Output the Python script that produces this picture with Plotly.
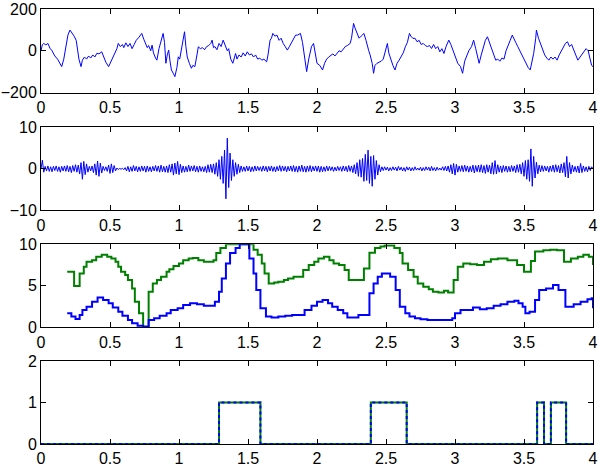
import plotly.graph_objects as go
from plotly.subplots import make_subplots

# panel 1: raw signal (time, amplitude)
raw_t = [0.00, 0.01, 0.02, 0.035, 0.05, 0.065, 0.08, 0.10, 0.12, 0.14, 0.15, 0.165, 0.18, 0.195, 0.21,
         0.225, 0.24, 0.255, 0.265, 0.275, 0.29, 0.30, 0.315, 0.33, 0.345, 0.36, 0.375, 0.39, 0.405, 0.42,
         0.44, 0.455, 0.47, 0.49, 0.505, 0.52, 0.535, 0.55, 0.56, 0.575, 0.59, 0.60, 0.615, 0.63, 0.645,
         0.66, 0.675, 0.69, 0.71, 0.73, 0.745, 0.755, 0.77, 0.78, 0.795, 0.805, 0.815, 0.83, 0.84, 0.855,
         0.87, 0.885, 0.895, 0.905, 0.915, 0.925, 0.935, 0.945, 0.96, 0.97, 0.985, 0.995, 1.005, 1.015,
         1.025, 1.04, 1.05, 1.06, 1.075, 1.09, 1.10, 1.115, 1.13, 1.14, 1.155, 1.17, 1.185, 1.20, 1.215,
         1.23, 1.24, 1.25, 1.26, 1.275, 1.29, 1.305, 1.32, 1.335, 1.35, 1.36, 1.375, 1.39, 1.40, 1.41,
         1.42, 1.435, 1.45, 1.465, 1.48, 1.495, 1.51, 1.525, 1.54, 1.555, 1.57, 1.585, 1.60, 1.615, 1.635,
         1.645, 1.66, 1.67, 1.68, 1.695, 1.71, 1.725, 1.74, 1.755, 1.77, 1.785, 1.80, 1.815, 1.83, 1.845,
         1.86, 1.88, 1.895, 1.91, 1.925, 1.94, 1.96, 1.975, 1.99, 2.00, 2.02, 2.04, 2.055, 2.07, 2.085,
         2.10, 2.115, 2.13, 2.145, 2.16, 2.175, 2.19, 2.205, 2.22, 2.24, 2.25, 2.265, 2.275, 2.29, 2.305,
         2.32, 2.34, 2.355, 2.365, 2.375, 2.385, 2.40, 2.41, 2.42, 2.435, 2.45, 2.465, 2.48, 2.495, 2.51,
         2.52, 2.535, 2.55, 2.565, 2.58, 2.595, 2.61, 2.625, 2.64, 2.655, 2.67, 2.68, 2.695, 2.71, 2.725,
         2.74, 2.755, 2.77, 2.785, 2.80, 2.815, 2.83, 2.845, 2.86, 2.875, 2.89, 2.905, 2.92, 2.935, 2.955,
         2.97, 2.985, 3.00, 3.02, 3.04, 3.055, 3.07, 3.09, 3.10, 3.12, 3.135, 3.15, 3.165, 3.175, 3.19,
         3.205, 3.22, 3.235, 3.25, 3.265, 3.28, 3.295, 3.31, 3.325, 3.34, 3.355, 3.37, 3.385, 3.40, 3.415,
         3.43, 3.44, 3.455, 3.47, 3.485, 3.50, 3.515, 3.53, 3.545, 3.56, 3.57, 3.585, 3.59, 3.605, 3.62,
         3.635, 3.65, 3.665, 3.68, 3.695, 3.71, 3.725, 3.74, 3.755, 3.77, 3.785, 3.80, 3.815, 3.83, 3.845,
         3.86, 3.875, 3.89, 3.905, 3.92, 3.935, 3.95, 3.965, 3.98, 3.99, 4.00]
raw_v = [0, 30, 35, 28, 35, 12, 0, -25, -40, -60, -76, -40, 20, 75, 99,
         85, 70, 50, 0, -40, -76, -45, -30, -40, -25, -35, -20, -30, -12, -15,
         -5, -30, -55, -76, -55, -40, -15, 10, 35, 20, 30, 15, 38, 20, 35,
         10, 30, 50, 65, 83, 55, 35, 15, 25, 0, 27, -10, -35, -45, 10,
         50, 83, 40, -60, -20, 3, -50, -92, -110, -124, -80, -29, -40, 0,
         40, 91, 20, -30, -60, -84, -70, -76, -20, 19, 10, 15, 5, 20, 25,
         35, 51, 15, 20, 5, 35, 20, 51, 25, 0, 10, -40, -60, -30, -13,
         -40, -20, -30, -10, -25, -5, -20, -15, -30, -20, -40, -35, -45, -40, -53,
         -20, 51, 60, 83, 70, 75, 50, 60, 35, 20, 3, 20, 40, 60, 75,
         75, 83, 40, -30, -100, -40, 20, 35, -20, -60, -70, -92, -60, -40, -30,
         -20, -15, -25, -10, 0, -5, 10, 20, 25, 35, 60, 131, 110, 83, 60,
         70, 83, 50, 20, 0, -20, -60, -108, -70, -60, -55, -50, -40, 0, 35,
         -10, -45, -70, -92, -60, -45, -25, -10, 19, 40, 83, 70, 59, 60, 43,
         50, 30, 35, 25, 20, 25, 11, 30, 10, 20, -5, 10, -13, 20, 51,
         30, 0, -20, -60, -76, -108, -50, -10, 0, 20, 51, 10, -30, -60, -20,
         20, 50, 67, 40, 10, -20, -45, -40, -50, -35, -40, 0, 30, 50, 75,
         50, 40, 20, 0, -20, -45, -60, -80, -92, -50, -13, 60, 99, 60, 30,
         0, -20, -35, -45, -30, -40, -30, -45, -20, 0, 20, 35, 43, 20, 30,
         0, -20, -45, -30, -20, 0, 10, 0, -53, -70, -76]

# panel 2: filtered signal, sampled every 0.01 s
filt_rate = 100
filt_v = [0, 2.1, -0.8, 0.6, -0.5, 0.7, -0.6, 0.5, -0.7, 0.6, -0.4, 0.7, -0.6, 0.5, -0.8, 0.6, -0.5, 0.7, -0.6, 0.8,
          -0.7, 0.6, -0.9, 0.8, -0.6, 1.0, -0.8, 0.9, -1.2, 1.5, -2.5, 1.8, -1.4, 1.2, -0.8, 0.6, -0.5, 0.7, -0.9, 1.2,
          -1.5, 1.9, -1.8, 1.4, -1.0, 0.6, -0.4, 0.5, -0.6, 0.9, -1.1, 1.2, -0.9, 0.8, -0.5, 0.2, -0.15, 0.1, -0.1, 0.15,
          -0.2, 0.3, -0.5, 0.6, -0.7, 0.5, -0.6, 0.8, -0.5, 0.6, -0.7, 0.5, -0.6, 0.7, -0.5, 0.6, -0.8, 0.7, -0.6, 0.5,
          -0.7, 0.6, -0.5, 0.8, -0.6, 0.7, -0.8, 0.9, -0.7, 0.6, -0.8, 0.7, -0.9, 1.0, -0.8, 1.2, -1.5, 1.4, -1.2, 1.8,
          -1.4, 1.1, -0.9, 0.7, -0.8, 0.6, -0.7, 0.9, -0.6, 0.7, -0.5, 0.8, -0.7, 0.6, -0.8, 0.7, -0.6, 0.5, -0.7, 0.6,
          -0.9, 1.0, -0.8, 1.1, -0.9, 1.2, -1.3, 1.5, -1.8, 2.2, -2.5, 3.0, -3.5, 4.5, -7.2, 7.4, -4.5, 3.8, -2.8, 2.2,
          -1.8, 1.5, -1.3, 1.1, -0.9, 0.7, -0.6, 0.5, -0.6, 0.7, -0.5, 0.6, -0.7, 0.5, -0.6, 0.7, -0.5, 0.6, -0.4, 0.5,
          -0.6, 0.7, -0.5, 0.6, -0.7, 0.6, -0.5, 0.7, -0.6, 0.5, -0.7, 0.6, -0.5, 0.8, -0.6, 0.7, -0.5, 0.6, -0.7, 0.6,
          -0.5, 0.7, -0.6, 0.8, -0.7, 0.6, -0.8, 0.7, -0.6, 0.9, -0.7, 0.6, -0.8, 0.7, -0.6, 0.8, -0.7, 0.6, -0.5, 0.7,
          -0.6, 0.7, -0.8, 0.6, -0.7, 0.5, -0.6, 0.7, -0.5, 0.6, -0.4, 0.5, -0.6, 0.4, -0.5, 0.6, -0.4, 0.5, -0.6, 0.7,
          -0.5, 0.6, -0.7, 0.8, -0.6, 0.7, -0.9, 1.0, -1.2, 1.5, -1.8, 2.2, -2.0, 2.5, -3.0, 3.5, -2.8, 4.5, -3.5, 3.0,
          -4.2, 3.2, -2.5, 2.0, -1.5, 1.0, -0.7, 0.5, -0.4, 0.5, -0.3, 0.4, -0.5, 0.3, -0.4, 0.5, -0.3, 0.4, -0.5, 0.6,
          -0.3, 0.4, -0.5, 0.3, -0.6, 0.5, -0.3, 0.4, -0.5, 0.3, -0.4, 0.5, -0.3, 0.2, -0.3, 0.4, -0.5, 0.3, -0.4, 0.5,
          -0.3, 0.4, -0.5, 0.6, -0.4, 0.3, -0.5, 0.4, -0.3, 0.2, -0.3, 0.5, -0.4, 0.6, -0.5, 0.7, -0.8, 1.0, -1.2, 1.3,
          -1.5, 1.1, -0.8, 0.7, -0.6, 0.8, -0.7, 0.9, -0.6, 0.7, -0.8, 0.6, -0.7, 0.9, -1.0, 0.8, -0.7, 0.9, -0.8, 1.0,
          -0.9, 0.8, -1.1, 1.0, -0.8, 0.9, -1.2, 1.5, -1.3, 2.0, -1.2, 1.0, -0.8, 0.7, -0.9, 0.8, -0.6, 0.7, -0.8, 0.6,
          -0.7, 0.8, -0.6, 0.7, -0.9, 1.0, -0.8, 1.1, -1.2, 1.5, -1.8, 2.0, -2.5, 2.2, -3.0, 4.8, -4.2, 3.0, -2.2, 1.6,
          -1.2, 0.9, -0.7, 0.8, -0.6, 0.7, -0.5, 0.6, -0.8, 0.7, -0.6, 0.9, -0.8, 1.0, -0.7, 0.8, -1.0, 1.2, -0.9, 1.5,
          -1.9, 3.0, -2.2, 1.5, -1.2, 0.9, -0.7, 0.6, -0.8, 0.7, -1.0, 1.3, -0.9, 0.7, -0.6, 0.5, -0.7, 0.6, -0.4, 0.5,
          0]
filt_t = [i / filt_rate for i in range(len(filt_v))]

# panel 3: step curves
green_t = [0.19, 0.24, 0.28, 0.31, 0.33, 0.37, 0.40, 0.44, 0.48, 0.51, 0.54, 0.56, 0.58, 0.61, 0.63, 0.66,
           0.68, 0.71, 0.74, 0.78, 0.81, 0.84, 0.87, 0.91, 0.93, 0.96, 1.00, 1.03, 1.07, 1.10, 1.14, 1.18,
           1.25, 1.27, 1.30, 1.34, 1.54, 1.57, 1.60, 1.62, 1.65, 1.69, 1.72, 1.76, 1.79, 1.83, 1.90, 1.94,
           1.98, 2.01, 2.05, 2.09, 2.12, 2.16, 2.20, 2.23, 2.34, 2.38, 2.42, 2.46, 2.49, 2.56, 2.60, 2.62,
           2.66, 2.70, 2.73, 2.77, 2.81, 2.84, 2.88, 2.92, 2.95, 2.99, 3.02, 3.06, 3.11, 3.16, 3.21, 3.26,
           3.31, 3.38, 3.45, 3.50, 3.55, 3.58, 3.64, 3.69, 3.74, 3.79, 3.84, 3.89, 3.93, 3.97, 4.00]
green_v = [6.7, 5.0, 6.5, 7.3, 7.9, 8.1, 8.5, 8.75, 8.5, 8.3, 7.9, 7.3, 6.7, 6.3, 5.7, 4.7,
           3.1, 1.7, 0.0, 4.3, 5.3, 5.7, 6.1, 6.7, 7.0, 7.4, 7.7, 8.1, 8.3, 8.35, 8.1, 7.9,
           8.1, 8.95, 9.55, 10.0, 9.35, 8.75, 7.7, 6.5, 5.3, 5.4, 5.5, 5.7, 5.9, 6.1, 6.9, 7.5,
           7.9, 8.3, 8.5, 8.1, 7.7, 7.5, 6.9, 5.7, 7.1, 9.0, 9.55, 9.75, 9.85, 9.55, 8.95, 7.7,
           6.9, 6.1, 5.3, 4.9, 4.6, 4.3, 4.2, 4.4, 4.2, 5.7, 7.3, 7.7, 7.6, 7.5, 7.9, 8.2,
           8.3, 8.1, 7.5, 6.7, 8.0, 9.15, 9.3, 9.35, 9.3, 7.9, 8.3, 8.5, 8.75, 8.5, 7.5]
blue_t = [0.19, 0.22, 0.25, 0.28, 0.30, 0.33, 0.37, 0.41, 0.45, 0.49, 0.52, 0.56, 0.59, 0.63, 0.66, 0.70,
          0.74, 0.78, 0.82, 0.86, 0.91, 0.94, 0.99, 1.03, 1.08, 1.13, 1.18, 1.26, 1.29, 1.31, 1.34, 1.37,
          1.41, 1.44, 1.51, 1.54, 1.56, 1.59, 1.63, 1.67, 1.72, 1.77, 1.82, 1.91, 1.96, 2.00, 2.04, 2.08,
          2.11, 2.15, 2.19, 2.22, 2.30, 2.38, 2.41, 2.44, 2.47, 2.53, 2.57, 2.60, 2.64, 2.67, 2.71, 2.75,
          2.80, 2.98, 3.00, 3.04, 3.09, 3.13, 3.18, 3.23, 3.28, 3.33, 3.38, 3.43, 3.46, 3.49, 3.51, 3.54,
          3.58, 3.61, 3.66, 3.71, 3.75, 3.80, 3.86, 3.91, 3.96, 3.99, 4.00]
blue_v = [1.7, 1.3, 1.0, 1.5, 2.1, 2.5, 3.1, 3.6, 3.3, 2.9, 2.4, 1.9, 1.4, 0.9, 0.5, 0.2,
          0.1, 0.9, 1.1, 1.4, 1.7, 2.1, 2.3, 2.7, 2.9, 2.8, 2.6, 3.1, 4.3, 5.9, 7.7, 8.95,
          9.55, 10.0, 8.3, 6.5, 4.5, 2.3, 1.3, 1.2, 1.3, 1.4, 1.5, 2.1, 2.6, 3.1, 3.3, 2.9,
          2.5, 2.1, 1.7, 1.2, 1.5, 4.1, 5.3, 6.1, 6.5, 6.1, 4.5, 2.5, 1.7, 1.3, 1.1, 0.97,
          0.9, 1.1, 1.7, 2.1, 2.1, 2.4, 2.2, 2.3, 2.6, 2.8, 3.1, 3.2, 2.9, 2.5, 1.7, 1.9,
          3.3, 4.5, 4.7, 5.1, 4.5, 2.5, 2.8, 3.1, 3.4, 3.5, 2.3]

# panel 4: detection flags
flag_t = [0, 1.29, 1.59, 2.39, 2.65, 3.595, 3.645, 3.695, 3.805, 4.0]
flag_v = [0, 1, 0, 1, 0, 1, 0, 1, 0, 0]

x_ticks = [0, 0.5, 1, 1.5, 2, 2.5, 3, 3.5, 4]
x_labels = ["0", "0.5", "1", "1.5", "2", "2.5", "3", "3.5", "4"]
y_ticks = [[-200, 0, 200], [-10, 0, 10], [0, 5, 10], [0, 1, 2]]
y_ranges = [[-200, 200], [-10, 10], [0, 10], [0, 2]]

BLUE = "#0000ff"
GREEN = "#008000"

fig = make_subplots(rows=4, cols=1)

fig.add_trace(go.Scatter(x=raw_t, y=raw_v, mode="lines", line=dict(color=BLUE, width=1)), row=1, col=1)
fig.add_trace(go.Scatter(x=filt_t, y=filt_v, mode="lines", line=dict(color=BLUE, width=1)), row=2, col=1)
fig.add_trace(go.Scatter(x=green_t, y=green_v, mode="lines", line=dict(color=GREEN, width=2, shape="hv")), row=3, col=1)
fig.add_trace(go.Scatter(x=blue_t, y=blue_v, mode="lines", line=dict(color=BLUE, width=2, shape="hv")), row=3, col=1)
fig.add_trace(go.Scatter(x=flag_t, y=flag_v, mode="lines", line=dict(color=GREEN, width=2, shape="hv")), row=4, col=1)
fig.add_trace(go.Scatter(x=flag_t, y=flag_v, mode="lines", line=dict(color=BLUE, width=2, shape="hv", dash="dot")), row=4, col=1)

domains = [[0.808, 1.0], [0.537, 0.728], [0.268, 0.459], [0.0, 0.191]]
axis_style = dict(showline=True, linecolor="black", linewidth=1, mirror="allticks",
                  ticks="inside", ticklen=5, tickcolor="black", showgrid=False, zeroline=False,
                  automargin=False, ticklabeloverflow="allow",
                  tickfont=dict(family="Liberation Sans, Arial", size=16, color="black"))
for i in range(4):
    fig.update_xaxes(range=[0, 4], tickvals=x_ticks, ticktext=x_labels, **axis_style, row=i + 1, col=1)
    fig.update_yaxes(range=y_ranges[i], tickvals=y_ticks[i], domain=domains[i], **axis_style, row=i + 1, col=1)

fig.update_layout(width=601, height=468, showlegend=False,
                  margin=dict(l=41, r=8, t=9, b=24),
                  paper_bgcolor="white", plot_bgcolor="white")

# drop the default 8px body margin so the figure sits at the page corner
fig.write_html("out.html", config={"displayModeBar": False},
               post_script="document.body.style.margin='0';")
